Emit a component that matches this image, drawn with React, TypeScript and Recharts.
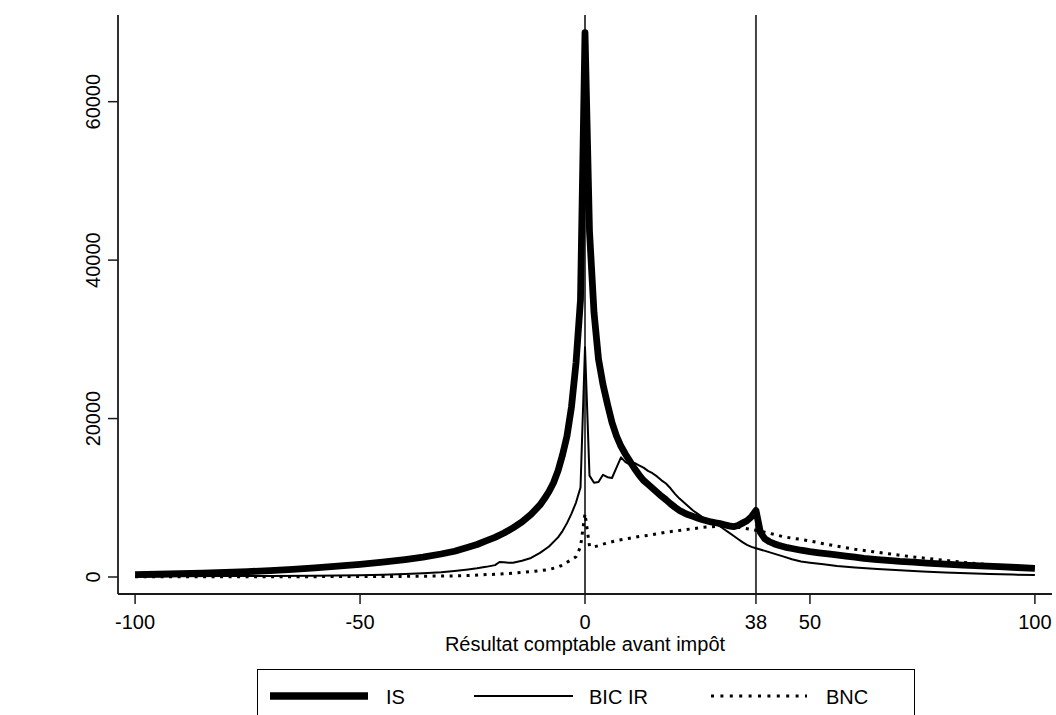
import React from "react";
import { LineChart, Line, XAxis, YAxis, ReferenceLine } from "recharts";

// ---- Data ----
const xTicks = [-100, -50, 0, 38, 50, 100];
const yTicks = [0, 20000, 40000, 60000];
const refLinesX = [0, 38];
const xTitle = "Résultat comptable avant impôt";
const seriesNames = ["IS", "BIC IR", "BNC"];

const isX = [-100,-95,-90,-85,-80,-75,-70,-65,-60,-55,-50,-45,-40,-36,-32,-29,-26,-24,-22,-20,-18,-16,-14,-12,-10,-9,-8,-7,-6,-5,-4,-3,-2,-1,0,1,2,3,4,5,6,7,8,9,10,11,12,13,14,15,16,17,18,19,20,21,22,23,24,25,26,27,28,29,30,31,32,33,34,35,36,37,38,39,40,41,42,43,44,45,46,48,50,52,55,58,60,62,65,68,70,73,76,80,84,88,92,96,100];
const isY = [300,350,420,500,580,680,800,950,1150,1380,1600,1880,2200,2500,2900,3250,3750,4100,4550,5000,5550,6200,6950,7900,9100,9900,10800,11900,13400,15400,17800,21500,27000,35000,68700,43600,33400,27500,24300,21800,19500,17800,16500,15500,14600,13700,12900,12200,11700,11200,10700,10200,9750,9250,8800,8400,8100,7850,7650,7450,7250,7100,6950,6850,6750,6600,6450,6350,6500,6800,7100,7600,8400,5600,4800,4450,4200,4000,3850,3700,3600,3380,3200,3050,2850,2650,2500,2350,2200,2080,1980,1870,1750,1620,1500,1400,1300,1200,1100];

const bicX = [-100,-90,-80,-70,-60,-50,-45,-40,-36,-32,-29,-26,-24,-22,-20,-19,-18,-17,-16,-14,-12,-10,-8,-6,-5,-4,-3,-2,-1,0,1,2,3,4,5,6,7,8,9,10,11,12,13,14,15,16,17,18,19,20,21,22,23,24,25,26,27,28,29,30,31,32,33,34,35,36,37,38,40,42,44,46,48,50,53,56,60,65,70,75,80,85,90,95,100];
const bicY = [80,100,120,140,170,220,290,370,470,600,760,950,1100,1280,1500,1900,1850,1800,1800,2050,2400,3050,3850,5000,5800,6800,8000,9400,11300,29000,12800,11900,12000,12900,12600,12500,13800,15100,14500,14200,14400,14100,13800,13400,13100,12700,12200,11800,11200,10500,9900,9400,8900,8400,8000,7600,7250,6950,6700,6400,6000,5600,5200,4800,4400,4050,3800,3620,3300,2950,2600,2250,1950,1800,1600,1400,1200,1000,850,700,580,460,380,300,250];

const bncX = [-100,-80,-60,-50,-40,-30,-25,-22,-20,-18,-16,-14,-12,-10,-8,-6,-5,-4,-3,-2,-1,0,1,2,3,4,5,6,7,8,10,12,14,16,18,20,22,24,26,28,30,32,34,36,37,38,40,42,44,46,48,50,53,56,60,64,68,72,76,80,84,88,92,96,100];
const bncY = [20,30,45,60,80,130,200,300,340,400,480,570,680,800,950,1250,1500,1850,2200,2550,3800,8000,3900,3800,3950,4150,4300,4450,4600,4700,4900,5100,5250,5450,5650,5800,5950,6100,6250,6350,6420,6380,6280,6100,6000,5900,5650,5380,5100,4900,4750,4550,4200,3900,3500,3200,2900,2600,2350,2100,1850,1650,1480,1330,1220];

const toRows = (xs: number[], ys: number[]) => xs.map((x, i) => ({ x, y: ys[i] }));
const isData = toRows(isX, isY);
const bicData = toRows(bicX, bicY);
const bncData = toRows(bncX, bncY);

// ---- Styles ----
const FONT = "'Liberation Sans', Arial, sans-serif";
const AXIS = "#1a1a1a";
const styleIS = { stroke: "#000", strokeWidth: 6.8 };
const styleBIC = { stroke: "#000", strokeWidth: 2 };
const styleBNC = { stroke: "#000", strokeWidth: 3, dash: "3 5.5" };

const YTick = (props: any) => {
  const { x, y, payload } = props;
  return (
    <text
      x={x}
      y={y}
      transform={`rotate(-90 ${x} ${y})`}
      textAnchor="middle"
      fontSize={20}
      fontFamily={FONT}
      fill="#000"
    >
      {payload.value}
    </text>
  );
};

export default function App() {
  return (
    <div
      style={{
        position: "fixed",
        left: 0,
        top: 0,
        width: 1056,
        height: 715,
        overflow: "hidden",
        background: "#fff",
        fontFamily: FONT,
      }}
    >
      <LineChart
        width={1056}
        height={715}
        margin={{ top: 15, right: 4, bottom: 61, left: 0 }}
        style={{ fontFamily: FONT }}
      >
        <XAxis
          xAxisId={0}
          type="number"
          dataKey="x"
          domain={[-103.8, 103.8]}
          ticks={xTicks}
          allowDataOverflow
          height={60}
          tickSize={10}
          tickMargin={11}
          interval={0}
          axisLine={{ stroke: AXIS, strokeWidth: 1.8 }}
          tickLine={{ stroke: AXIS, strokeWidth: 1.5 }}
          tick={{ fontSize: 20, fill: "#000", fontFamily: FONT }}
          label={{
            value: xTitle,
            position: "insideBottom",
            offset: 3,
            fontSize: 20,
            fill: "#000",
            fontFamily: FONT,
          }}
        />
        <XAxis
          xAxisId="top"
          orientation="top"
          type="number"
          domain={[-103.8, 103.8]}
          height={0}
          tick={false}
          tickLine={false}
          axisLine={{ stroke: "#444", strokeWidth: 1.8 }}
        />
        <YAxis
          yAxisId={0}
          type="number"
          domain={[-2146, 70942]}
          ticks={yTicks}
          allowDataOverflow
          width={118}
          tickSize={10}
          tickMargin={8}
          interval={0}
          axisLine={{ stroke: AXIS, strokeWidth: 1.8 }}
          tickLine={{ stroke: AXIS, strokeWidth: 1.5 }}
          tick={<YTick />}
        />
        <YAxis
          yAxisId="right"
          orientation="right"
          type="number"
          domain={[-2146, 70942]}
          width={0}
          tick={false}
          tickLine={false}
          axisLine={{ stroke: AXIS, strokeWidth: 1.8 }}
        />
        {refLinesX.map((v) => (
          <ReferenceLine key={v} x={v} stroke="#444" strokeWidth={2} />
        ))}
        <Line
          data={bncData}
          dataKey="y"
          name={seriesNames[2]}
          type="linear"
          stroke={styleBNC.stroke}
          strokeWidth={styleBNC.strokeWidth}
          strokeDasharray={styleBNC.dash}
          dot={false}
          activeDot={false}
          isAnimationActive={false}
        />
        <Line
          data={bicData}
          dataKey="y"
          name={seriesNames[1]}
          type="linear"
          stroke={styleBIC.stroke}
          strokeWidth={styleBIC.strokeWidth}
          strokeLinejoin="round"
          dot={false}
          activeDot={false}
          isAnimationActive={false}
        />
        <Line
          data={isData}
          dataKey="y"
          name={seriesNames[0]}
          type="linear"
          stroke={styleIS.stroke}
          strokeWidth={styleIS.strokeWidth}
          strokeLinejoin="round"
          dot={false}
          activeDot={false}
          isAnimationActive={false}
        />
      </LineChart>
      <div
        style={{
          position: "absolute",
          left: 257,
          top: 669,
          width: 656,
          height: 60,
          border: "1.5px solid #000",
          background: "#fff",
        }}
      >
        <svg width={656} height={60} style={{ display: "block" }}>
          <line x1={12} x2={110} y1={26} y2={26} stroke="#000" strokeWidth={7.5} />
          <text x={128} y={34} fontSize={20} fontFamily={FONT} fill="#000">{seriesNames[0]}</text>
          <line x1={216} x2={315} y1={26} y2={26} stroke="#000" strokeWidth={2} />
          <text x={331} y={34} fontSize={20} fontFamily={FONT} fill="#000">{seriesNames[1]}</text>
          <line x1={453} x2={549} y1={26} y2={26} stroke="#000" strokeWidth={3} strokeDasharray="3 6.4" />
          <text x={568} y={34} fontSize={20} fontFamily={FONT} fill="#000">{seriesNames[2]}</text>
        </svg>
      </div>
    </div>
  );
}
